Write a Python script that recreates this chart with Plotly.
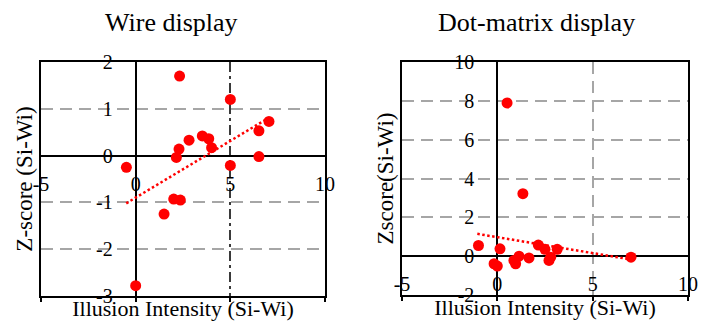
import plotly.graph_objects as go

# ---- data ----
wire_x = [2.32, 5.0, 7.04, 6.51, 6.51, 3.52, 3.86, 4.01, 2.82, 2.29, 2.15, 5.0, -0.49, 2.01, 2.36, 1.50, 0.0]
wire_y = [1.70, 1.20, 0.73, 0.53, -0.02, 0.42, 0.36, 0.17, 0.33, 0.14, -0.04, -0.21, -0.25, -0.93, -0.95, -1.25, -2.78]
wire_trend_x = [-0.5, 7.0]
wire_trend_y = [-1.02, 0.80]

dot_x = [0.51, 1.34, -0.99, 0.14, 2.15, 2.50, 3.14, 7.01, -0.17, 0.0, 0.87, 1.14, 0.96, 1.66, 2.71, 2.80]
dot_y = [7.89, 3.22, 0.55, 0.38, 0.57, 0.35, 0.35, -0.05, -0.39, -0.51, -0.22, 0.0, -0.39, -0.09, -0.22, -0.05]
dot_trend_x = [-1.05, 7.0]
dot_trend_y = [1.15, -0.17]

x_range = [-5, 10]
wire_y_range = [-3, 2]
dot_y_range = [-2, 10]
x_ticks = [-5, 0, 5, 10]
wire_y_ticks = [-3, -2, -1, 0, 1, 2]
dot_y_ticks = [-2, 0, 2, 4, 6, 8, 10]

titles = ["Wire display", "Dot-matrix display"]
x_title = "Illusion Intensity (Si-Wi)"
y_titles = ["Z-score (Si-Wi)", "Zscore(Si-Wi)"]

# ---- layout geometry (page body has an 8px margin) ----
OFF = 8
W, H = 707 - OFF, 324 - OFF


def px_x(p):
    return (p - OFF) / W


def px_y(p):
    return 1 - (p - OFF) / H


dom_x = [[px_x(41), px_x(325)], [px_x(402), px_x(688)]]
dom_y = [[px_y(296), px_y(62)], [px_y(295), px_y(62)]]

FONT = "Times New Roman, Liberation Serif, DejaVu Serif, serif"
RED = "#ff0000"
GRID = "#a6a6a6"
CLEAR = "rgba(0,0,0,0)"
DASH = "12px,7px"
DASHDOT = "10px,4px,3px,4px"


def frac(v, r):
    return (v - r[0]) / (r[1] - r[0])


fig = go.Figure()

panels = [
    (wire_x, wire_y, wire_trend_x, wire_trend_y, wire_y_range, wire_y_ticks, "#3a3a3a", DASHDOT),
    (dot_x, dot_y, dot_trend_x, dot_trend_y, dot_y_range, dot_y_ticks, GRID, DASH),
]

for i, (px, py, tx, ty, yr, yt, vgc, vgd) in enumerate(panels):
    n = i + 1
    xa_main = "x" if n == 1 else f"x{n}"
    ya_main = "y" if n == 1 else f"y{n}"
    bx = f"x{n + 2}"
    by = f"y{n + 2}"

    fig.add_trace(go.Scatter(x=tx, y=ty, mode="lines",
                             line=dict(color=RED, width=2.5, dash="2.5px,2.5px"),
                             xaxis=xa_main, yaxis=ya_main, showlegend=False, hoverinfo="skip"))
    fig.add_trace(go.Scatter(x=px, y=py, mode="markers",
                             marker=dict(color=RED, size=11),
                             xaxis=xa_main, yaxis=ya_main, showlegend=False))
    # dummy trace for the frame axes
    fig.add_trace(go.Scatter(x=[None], y=[None], mode="markers", xaxis=bx, yaxis=by,
                             showlegend=False, hoverinfo="skip"))

    dx, dy = dom_x[i], dom_y[i]
    pos_y0 = dy[0] + frac(0, yr) * (dy[1] - dy[0])
    pos_x0 = dx[0] + frac(0, x_range) * (dx[1] - dx[0])

    key_x = "xaxis" if n == 1 else f"xaxis{n}"
    key_y = "yaxis" if n == 1 else f"yaxis{n}"
    fig.layout[key_x] = dict(
        domain=dx, range=x_range, anchor="free", position=pos_y0,
        tickmode="array", tickvals=x_ticks, ticktext=[str(t) for t in x_ticks],
        showline=True, linecolor="black", linewidth=2,
        ticks="outside", ticklen=10, tickcolor=CLEAR,
        showgrid=True, gridcolor=vgc, griddash=vgd, gridwidth=1.5,
        zeroline=False, layer="below traces", automargin=False,
        tickfont=dict(family=FONT, size=20, color="black"),
    )
    fig.layout[key_y] = dict(
        domain=dy, range=yr, anchor="free", position=pos_x0,
        tickmode="array", tickvals=yt, ticktext=[str(t) for t in yt],
        showline=True, linecolor="black", linewidth=2,
        ticks="outside", ticklen=18, tickcolor=CLEAR,
        showgrid=True, gridcolor=GRID, griddash=DASH, gridwidth=1.5,
        zeroline=False, layer="below traces", automargin=False,
        tickfont=dict(family=FONT, size=20, color="black"),
    )
    fig.layout[f"xaxis{n + 2}"] = dict(
        domain=dx, range=x_range, anchor=by, overlaying=xa_main,
        tickmode="array", tickvals=x_ticks, showticklabels=False,
        showline=True, mirror=True, linecolor="black", linewidth=2,
        ticks="outside", ticklen=4, tickcolor="black", tickwidth=1.5,
        showgrid=False, zeroline=False, automargin=False,
        title=dict(text=x_title, font=dict(family=FONT, size=22, color="black"), standoff=0),
    )
    fig.layout[f"yaxis{n + 2}"] = dict(
        domain=dy, range=yr, anchor=bx, overlaying=ya_main,
        showticklabels=False, showline=True, mirror=True, linecolor="black", linewidth=2,
        ticks="", showgrid=False, zeroline=False, automargin=False,
        title=dict(text=y_titles[i], font=dict(family=FONT, size=23, color="black"), standoff=0),
    )

fig.add_annotation(text=titles[0], x=px_x(171), y=px_y(22), xref="paper", yref="paper",
                   showarrow=False, font=dict(family=FONT, size=26, color="black"),
                   xanchor="center", yanchor="middle")
fig.add_annotation(text=titles[1], x=px_x(536), y=px_y(22), xref="paper", yref="paper",
                   showarrow=False, font=dict(family=FONT, size=26, color="black"),
                   xanchor="center", yanchor="middle")

fig.update_layout(
    width=W, height=H, margin=dict(l=0, r=0, t=0, b=0, autoexpand=False),
    paper_bgcolor="white", plot_bgcolor="white", showlegend=False,
    font=dict(family=FONT, color="black"),
)

fig.write_html("out.html")
